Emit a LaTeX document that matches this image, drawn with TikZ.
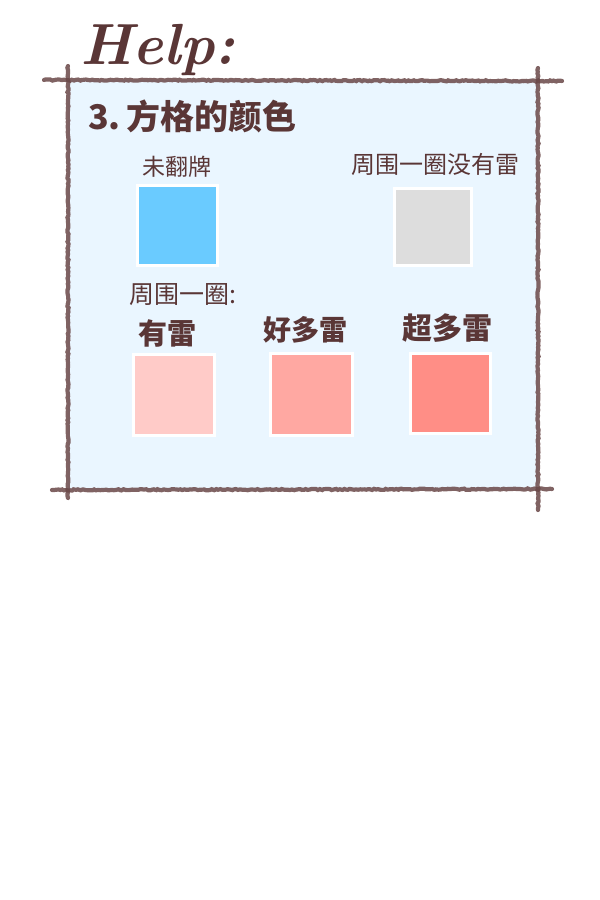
\documentclass[tikz,border=0pt]{standalone}
\usepackage{fontspec}
\newfontfamily\cjk{Noto Sans CJK SC}
\usetikzlibrary{decorations.pathmorphing}
\definecolor{ink}{HTML}{5A3636}
\definecolor{pen}{HTML}{6A4848}
\definecolor{panel}{HTML}{EAF6FF}
\definecolor{cblue}{HTML}{6ACBFF}
\definecolor{cgray}{HTML}{DDDDDD}
\definecolor{cpink}{HTML}{FFCBC8}
\definecolor{csalmon}{HTML}{FFA8A2}
\definecolor{cred}{HTML}{FF8E86}
\tikzset{
  sketch/.style={draw=pen, line width=4.2pt, line cap=round, opacity=0.85,
    decorate, decoration={random steps, segment length=2pt, amplitude=0.6pt}},
  swatch/.style={draw=white, line width=3pt, minimum width=#1, minimum height=#1, inner sep=0pt},
  lab/.style={text=ink, font=\cjk, inner sep=0pt}
}
\begin{document}
\begin{tikzpicture}[x=1pt,y=-1pt]
\useasboundingbox (0,0) rectangle (600,900);
\fill[white] (0,0) rectangle (600,900);
\fill[panel] (68,80) rectangle (538,490);
% frame
\coordinate (t1) at (44,80); \coordinate (t2) at (562,81);
\coordinate (b1) at (52,490); \coordinate (b2) at (552,489);
\coordinate (l1) at (68,66); \coordinate (l2) at (68,498);
\coordinate (r1) at (538,68); \coordinate (r2) at (538,510);
\draw[sketch] (t1) -- (t2);
\draw[sketch] (b1) -- (b2);
\draw[sketch] (l1) -- (l2);
\draw[sketch] (r1) -- (r2);
% title
\node[text=ink, font=\fontsize{58}{60}\selectfont\bfseries\itshape, anchor=base west, inner sep=0pt] (help) at (80,64) {Help:};
\node[lab, font=\cjk\bfseries\fontsize{34}{36}\selectfont, anchor=base west] (h3) at (88,129) {3.\,方格的颜色};
% labels
\node[lab, font=\cjk\fontsize{23}{25}\selectfont] (l0) at (177,167) {未翻牌};
\node[lab, font=\cjk\fontsize{24}{26}\selectfont] (l1t) at (435,164) {周围一圈没有雷};
\node[lab, font=\cjk\fontsize{25}{27}\selectfont, anchor=west] (l2t) at (129,295) {周围一圈:};
\node[lab, font=\cjk\bfseries\fontsize{29}{31}\selectfont] (l3) at (167,333) {有雷};
\node[lab, font=\cjk\bfseries\fontsize{28}{30}\selectfont] (l4) at (305,330) {好多雷};
\node[lab, font=\cjk\bfseries\fontsize{30}{32}\selectfont] (l5) at (447,328) {超多雷};
% swatches
\node[swatch=80pt, fill=cblue] (s0) at (177,225.5) {};
\node[swatch=77pt, fill=cgray] (s1) at (433,227) {};
\node[swatch=81pt, fill=cpink] (s2) at (174,395) {};
\node[swatch=82pt, fill=csalmon] (s3) at (311.5,394) {};
\node[swatch=80pt, fill=cred] (s4) at (450.5,393) {};
\end{tikzpicture}
\end{document}
